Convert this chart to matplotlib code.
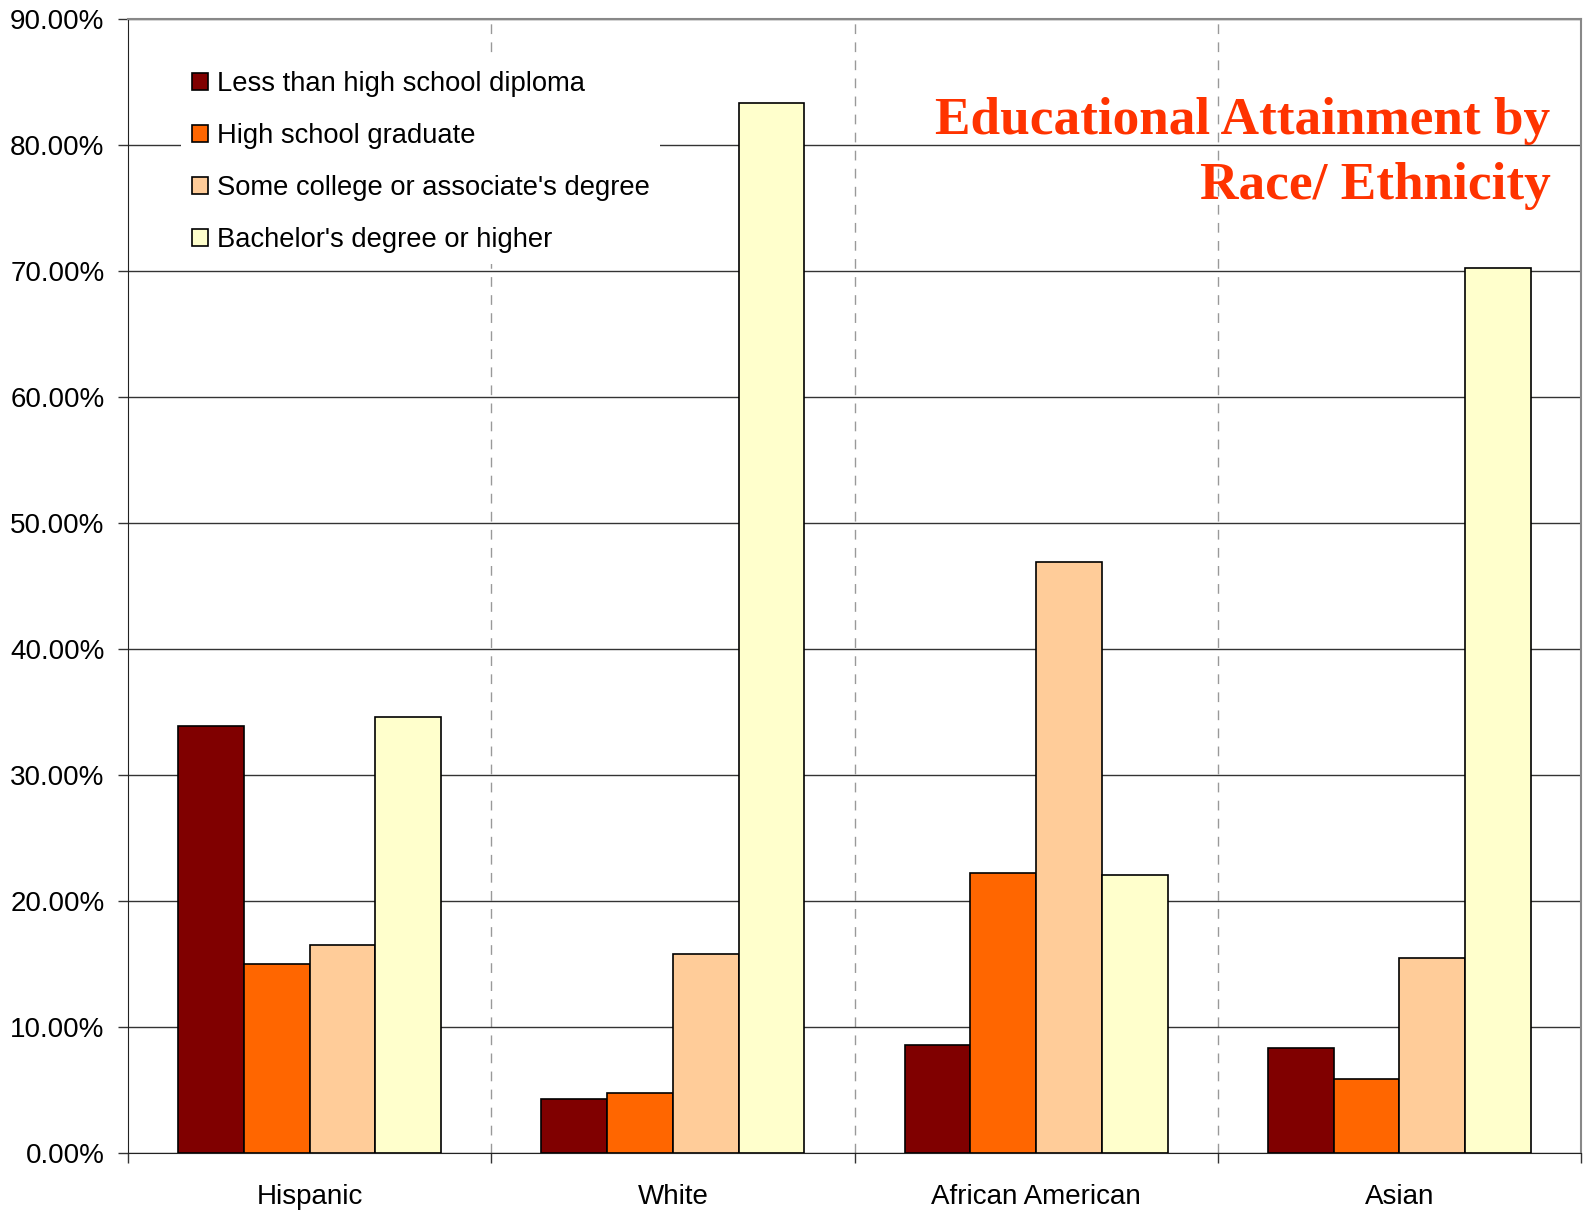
import matplotlib
matplotlib.use('Agg')
import matplotlib.pyplot as plt
import numpy as np

plt.rcParams['font.family'] = ['Liberation Sans', 'DejaVu Sans']

# 数据
groups = ['Hispanic', 'White', 'African American', 'Asian']
series = ['Less than high school diploma', 'High school graduate',
          "Some college or associate's degree", "Bachelor's degree or higher"]
less_than_hs = [33.9, 4.3, 8.6, 8.3]
hs_graduate = [15.0, 4.8, 22.2, 5.9]
some_college = [16.5, 15.8, 46.9, 15.5]
bachelors = [34.6, 83.3, 22.1, 70.2]
colors = ['#800000', '#FF6600', '#FFCC99', '#FFFFCC']

fig = plt.figure(figsize=(15.85, 12.17), dpi=100)
ax = fig.add_axes([128 / 1585, 1 - 1153 / 1217, 1453 / 1585, 1134 / 1217])

x = np.arange(len(groups))
w = 0.181
for i, (vals, lab) in enumerate(zip([less_than_hs, hs_graduate, some_college, bachelors], series)):
    ax.bar(x + (i - 1.5) * w, vals, w, color=colors[i], edgecolor='black',
           linewidth=1.2, label=lab, zorder=3)

ax.set_xlim(-0.5, 3.5)
ax.set_ylim(0, 90)
ax.set_yticks(np.arange(0, 91, 10))
ax.set_yticklabels(['%.2f%%' % v for v in np.arange(0, 91, 10)], fontsize=20)
ax.yaxis.grid(True, color='#333333', linewidth=1, zorder=0)
# 类别之间的虚线分隔
for b in [0.5, 1.5, 2.5]:
    ax.axvline(b, color='#999999', linewidth=1, linestyle=(0, (7, 6)), zorder=1)

ax.set_xticks(np.arange(-0.5, 3.6, 1))
ax.set_xticklabels([])
ax.set_xticks(x, minor=True)
ax.set_xticklabels(groups, minor=True, fontsize=20)
ax.tick_params(axis='x', which='minor', length=0, pad=22)
ax.tick_params(axis='x', which='major', length=7, width=1, direction='out', color='#333333')
ax.tick_params(axis='y', length=7, width=1, direction='out', pad=10, color='#333333')

for s in ['left', 'bottom']:
    ax.spines[s].set_color('#222222')
for s in ['top', 'right']:
    ax.spines[s].set_color('#888888')
    ax.spines[s].set_linewidth(1.5)

leg = ax.legend(loc='upper left', bbox_to_anchor=(53 / 1453, (1153 - 60) / 1134),
                fontsize=19.7, frameon=True, fancybox=False, edgecolor='none',
                facecolor='white', framealpha=1, borderpad=0.4, borderaxespad=0,
                labelspacing=0.95, handlelength=0.58, handleheight=0.58,
                handletextpad=0.32)
leg.set_zorder(5)

title_kw = dict(transform=ax.transAxes, ha='right', va='baseline', fontsize=38.3,
                fontweight='bold', color='#FF3300', family='Liberation Serif', zorder=6)
ax.text(0.979, (1153 - 134) / 1134, 'Educational Attainment by', **title_kw)
ax.text(0.979, (1153 - 199) / 1134, 'Race/ Ethnicity', **title_kw)

plt.savefig('out.png', dpi=100)
